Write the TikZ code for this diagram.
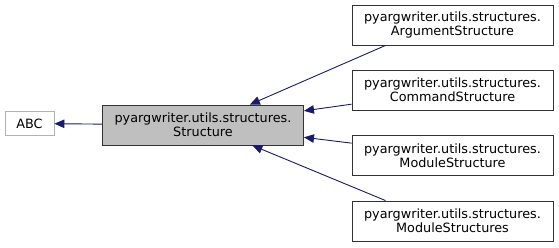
\documentclass[tikz,border=0pt]{standalone}
\usepackage{fontspec}
\setmainfont{DejaVu Sans}
\usetikzlibrary{arrows.meta}
\definecolor{edgeblue}{HTML}{191970}
\tikzset{
  clsBox/.style={draw=black!80,fill=white,line width=.9pt,align=center,
        inner sep=2pt,font=\fontsize{12.8}{14}\selectfont,
        minimum width=201pt,minimum height=40pt},
  clsExt/.style={clsBox,draw=black!30,minimum width=49pt,minimum height=24pt},
  clsCur/.style={clsBox,fill=black!25},
  inhEdge/.style={draw=edgeblue,line width=.9pt,
        -{Triangle[length=10pt,width=8.5pt]}},
}
\begin{document}
\begin{tikzpicture}[x=1pt,y=-1pt]
\useasboundingbox (0,0) rectangle (559,248);
\node[clsExt] (abc)    at (29.5,123.5) {ABC};
\node[clsCur] (struct) at (203,125)    {pyargwriter.utils.structures.\\Structure};
\node[clsBox] (arg)    at (452.5,25)   {pyargwriter.utils.structures.\\ArgumentStructure};
\node[clsBox] (cmd)    at (452.5,90)   {pyargwriter.utils.structures.\\CommandStructure};
\node[clsBox] (mod)    at (452.5,155.5){pyargwriter.utils.structures.\\ModuleStructure};
\node[clsBox] (mods)   at (452.5,221)  {pyargwriter.utils.structures.\\ModuleStructures};

\draw[inhEdge] (struct) -- (abc);
\draw[inhEdge] ([xshift=-67pt]arg.south) -- (struct);
\draw[inhEdge] (cmd) -- (struct);
\draw[inhEdge] (mod) -- (struct);
\draw[inhEdge] ([xshift=-67pt]mods.north) -- (struct);
\end{tikzpicture}
\end{document}
